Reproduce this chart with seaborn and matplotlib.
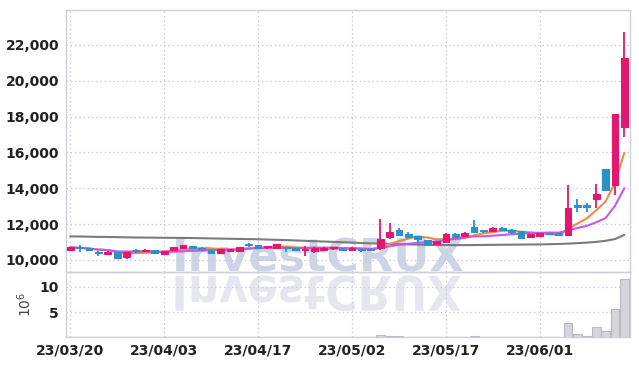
import numpy as np
import pandas as pd
import matplotlib
matplotlib.use("Agg")
import matplotlib.pyplot as plt
import seaborn as sns
from matplotlib.textpath import TextPath
from matplotlib.patches import PathPatch
from matplotlib.font_manager import FontProperties
from matplotlib.transforms import Affine2D, IdentityTransform
from matplotlib.ticker import FuncFormatter

# trading days (KRX holidays removed)
holidays = ['2023-05-01', '2023-05-05', '2023-05-29', '2023-06-06']
dates = pd.bdate_range('2023-03-20', '2023-06-15', freq='C', holidays=holidays)

open_ = [10550, 10680, 10660, 10460, 10360, 10420, 10150, 10520, 10500, 10560,
         10330, 10560, 10680, 10780, 10620, 10560, 10400, 10520, 10500, 10840,
         10820, 10700, 10680, 10680, 10660, 10540, 10520, 10560, 10650, 10640,
         10560, 10580, 10580, 10680, 11300, 11700, 11440, 11320, 11100, 10900,
         11000, 11450, 11330, 11830, 11620, 11620, 11780, 11700, 11600, 11280,
         11340, 11470, 11480, 11400, 13050, 13050, 13400, 15050, 14170, 17400]
high = [10750, 10850, 10680, 10480, 10480, 10430, 10470, 10620, 10620, 10580,
        10520, 10740, 10860, 10800, 10700, 10580, 10620, 10640, 10740, 10950,
        10840, 10780, 10900, 10720, 10680, 10780, 10700, 10700, 10720, 10660,
        10700, 10620, 10620, 12280, 12050, 11800, 11550, 11330, 11120, 11080,
        11480, 11480, 11560, 12220, 11700, 11850, 11850, 11720, 11620, 11460,
        11500, 11520, 11500, 14170, 13400, 13200, 14250, 15100, 18130, 22750]
low = [10500, 10450, 10520, 10250, 10300, 10080, 10080, 10380, 10460, 10360,
       10300, 10520, 10650, 10640, 10520, 10360, 10380, 10480, 10480, 10700,
       10660, 10620, 10660, 10450, 10540, 10200, 10380, 10520, 10560, 10520,
       10540, 10460, 10500, 10560, 11150, 11380, 11250, 10950, 10800, 10880,
       10960, 11280, 11300, 11560, 11520, 11600, 11640, 11460, 11220, 11260,
       11320, 11380, 11380, 11350, 12700, 12700, 12900, 13850, 13620, 16850]
close = [10700, 10660, 10560, 10400, 10450, 10100, 10450, 10500, 10560, 10380,
         10480, 10700, 10820, 10680, 10600, 10400, 10600, 10600, 10720, 10820,
         10680, 10720, 10880, 10660, 10560, 10560, 10680, 10660, 10670, 10560,
         10660, 10560, 10560, 11150, 11560, 11400, 11300, 11180, 10840, 11050,
         11450, 11300, 11500, 11580, 11600, 11780, 11680, 11580, 11230, 11440,
         11480, 11450, 11400, 12880, 12950, 12950, 13680, 13880, 18120, 21280]
# long moving average
ma_long = [11320, 11310, 11300, 11290, 11285, 11275, 11265, 11255, 11250, 11245,
           11240, 11235, 11230, 11225, 11215, 11205, 11195, 11185, 11175, 11165,
           11155, 11140, 11125, 11110, 11090, 11070, 11050, 11030, 11010, 10990,
           10970, 10950, 10930, 10910, 10895, 10880, 10870, 10860, 10850, 10840,
           10835, 10830, 10830, 10835, 10840, 10845, 10850, 10855, 10860, 10865,
           10870, 10880, 10895, 10915, 10940, 10970, 11010, 11070, 11170, 11400]
# volume in millions
volume = [0.08, 0.10, 0.07, 0.06, 0.06, 0.09, 0.08, 0.05, 0.06, 0.07,
          0.06, 0.08, 0.09, 0.06, 0.05, 0.07, 0.06, 0.05, 0.07, 0.08,
          0.06, 0.05, 0.08, 0.06, 0.05, 0.09, 0.07, 0.05, 0.05, 0.05,
          0.06, 0.05, 0.05, 0.40, 0.25, 0.12, 0.10, 0.09, 0.10, 0.07,
          0.10, 0.07, 0.08, 0.20, 0.07, 0.08, 0.06, 0.07, 0.09, 0.06,
          0.07, 0.06, 0.06, 2.75, 0.60, 0.20, 2.00, 1.20, 5.70, 11.70]

df = pd.DataFrame({'date': dates, 'open': open_, 'high': high, 'low': low,
                   'close': close, 'ma_long': ma_long, 'volume': volume})
df['idx'] = np.arange(len(df))
df['ma5'] = df['close'].rolling(5, min_periods=1).mean()
df['ma10'] = df['close'].rolling(10, min_periods=1).mean()

sns.set_style("white")
plt.rcParams['font.family'] = ['DejaVu Sans']

UP = '#e2186f'
DOWN = '#2b92c8'
GRID = '#c9cbdc'
FRAME = '#cfd0d8'

fig = plt.figure(figsize=(6.39, 3.66), dpi=100)
fig.patch.set_facecolor('white')
ax = fig.add_axes([66/639, 1-272/366, 564/639, 262/366])
vax = fig.add_axes([66/639, 1-337/366, 564/639, 65/366], sharex=ax)
for a in (ax, vax):
    a.patch.set_visible(False)

# watermark
ax.text(318/639, 1-272/366, 'InvestCRUX', transform=fig.transFigure,
        ha='center', va='baseline', fontsize=32, fontweight='bold',
        family='DejaVu Sans', color='#c5cde2',
        alpha=0.85, zorder=0.5, clip_on=False)
tp = TextPath((0, 0), 'InvestCRUX', size=50,
              prop=FontProperties(family='DejaVu Sans', weight='bold'))
bb = tp.get_extents()
sx = 285 / bb.width
tr = Affine2D().translate(-bb.x0 - bb.width/2, 0).scale(sx, -0.95) \
    .translate(318, 366-276)
ax.add_patch(PathPatch(tr.transform_path(tp), transform=IdentityTransform(),
                       facecolor='#e5e6ef', edgecolor='none', zorder=0.5,
                       clip_on=False))

# moving averages
sns.lineplot(data=df, x='idx', y='ma_long', ax=ax, color='#7b7b7b', lw=1.5, zorder=2)
sns.lineplot(data=df, x='idx', y='ma5', ax=ax, color='#f0884a', lw=1.5, zorder=2)
sns.lineplot(data=df, x='idx', y='ma10', ax=ax, color='#c558ea', lw=1.5, zorder=2)

# candles
colors = np.where(df['close'] >= df['open'], UP, DOWN)
body_lo = np.minimum(df['open'], df['close'])
body_h = np.maximum(np.abs(df['close'] - df['open']), 70)
ax.vlines(df['idx'], df['low'], df['high'], colors=colors, lw=1.3, zorder=3)
ax.bar(df['idx'], body_h, bottom=body_lo, width=0.72, color=colors,
       edgecolor=colors, linewidth=0.8, zorder=4)

# volume
sns.barplot(data=df, x='idx', y='volume', ax=vax, native_scale=True,
            color='#d6d5db', edgecolor='#b9b8c0', linewidth=0.8,
            saturation=1, errorbar=None, width=0.95, zorder=2)

ax.set_xlim(-0.45, 59.6)
ax.set_ylim(9330, 23950)
vax.set_ylim(0, 13)

ticks = df['idx'][::10]
vax.set_xticks(ticks)
vax.set_xticklabels(df['date'].dt.strftime('%y/%m/%d')[::10])
ax.set_yticks(range(10000, 22001, 2000))
ax.yaxis.set_major_formatter(FuncFormatter(lambda v, p: f'{int(v):,}'))
vax.set_yticks([5, 10])

for a in (ax, vax):
    a.grid(True, color=GRID, ls=(0, (1.2, 2.2)), lw=0.9)
    a.set_axisbelow(True)
    a.set_xlabel('')
    a.set_ylabel('')
    a.tick_params(length=0, labelsize=10, labelcolor='#222222', pad=5)
    for s in a.spines.values():
        s.set_color(FRAME)
        s.set_linewidth(1.0)
    for lbl in a.get_xticklabels() + a.get_yticklabels():
        lbl.set_fontweight('bold')
ax.tick_params(labelbottom=False)
vax.set_ylabel('$10^6$', fontsize=10, color='#444444', labelpad=4)

fig.savefig('out.png', dpi=100, facecolor='white')
